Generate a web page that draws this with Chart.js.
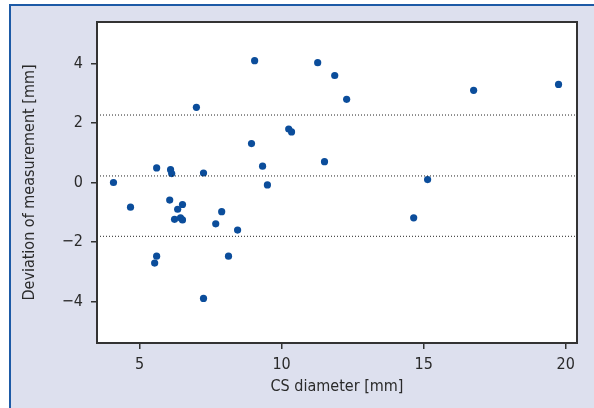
<!DOCTYPE html>
<html>
<head>
<meta charset="utf-8">
<script src="https://cdn.jsdelivr.net/npm/chart.js@4"></script>
<style>
    html, body { margin: 0; padding: 0; background: #fff; }
    #wrap { width: 594px; height: 408px; }
</style>
</head>
<body>
<div id="wrap"><canvas id="chart" width="594" height="408"></canvas></div>
<script>
// CS diameter [mm] vs deviation of measurement [mm]
const csDiameter = [
    4.08, 4.68, 5.6, 5.53, 5.6, 6.09, 6.13, 6.06, 6.23, 6.34, 6.44, 6.51,
    6.51, 7.0, 7.25, 7.25, 7.68, 7.89, 8.13, 8.45, 8.94, 9.05, 9.33, 9.5,
    10.25, 10.35, 11.27, 11.51, 11.87, 12.29, 14.65, 15.14, 16.76, 19.75
];
const deviation = [
    0.0, -0.83, 0.49, -2.71, -2.48, 0.43, 0.3, -0.59, -1.24, -0.9, -1.19, -0.74,
    -1.26, 2.53, 0.32, -3.9, -1.39, -0.98, -2.48, -1.6, 1.31, 4.1, 0.55, -0.08,
    1.8, 1.7, 4.03, 0.7, 3.6, 2.8, -1.19, 0.1, 3.1, 3.3
];

// mean difference and limits of agreement (dotted lines)
const refLines = [2.27, 0.22, -1.81];

const xTicks = [5, 10, 15, 20];
const yTicks = [-4, -2, 0, 2, 4];
const xRange = [3.5, 20.4];
const yRange = [-5.4, 5.4];

const FONT = '"Liberation Sans Narrow", "DejaVu Sans Condensed", "Arial Narrow", Arial, sans-serif';
const TEXT = '#2a2a2a';
const AXIS = '#333333';

const points = csDiameter.map((x, i) => ({ x: x, y: deviation[i] }));

const lineSets = refLines.map(v => ({
    type: 'line',
    data: [{ x: xRange[0], y: v }, { x: xRange[1], y: v }],
    borderColor: '#222',
    borderWidth: 1,
    borderDash: [1, 2],
    pointRadius: 0,
    fill: false
}));

// page panel + plot box
const panelPlugin = {
    id: 'panel',
    beforeDraw(chart) {
        const ctx = chart.ctx;
        const a = chart.chartArea;
        ctx.save();
        ctx.fillStyle = '#ffffff';
        ctx.fillRect(0, 0, chart.width, chart.height);
        ctx.fillStyle = '#dde0ee';
        ctx.fillRect(9, 4, chart.width - 9, chart.height - 4);
        ctx.strokeStyle = '#1d5aa6';
        ctx.lineWidth = 2;
        ctx.beginPath();
        ctx.moveTo(10, chart.height);
        ctx.lineTo(10, 5);
        ctx.lineTo(chart.width, 5);
        ctx.stroke();
        ctx.fillStyle = '#ffffff';
        ctx.fillRect(a.left, a.top, a.right - a.left, a.bottom - a.top);
        ctx.restore();
    },
    afterDraw(chart) {
        const ctx = chart.ctx;
        const a = chart.chartArea;
        ctx.save();
        ctx.strokeStyle = AXIS;
        ctx.lineWidth = 2;
        ctx.strokeRect(a.left, a.top, a.right - a.left, a.bottom - a.top);
        ctx.restore();
    }
};

new Chart(document.getElementById('chart').getContext('2d'), {
    type: 'scatter',
    data: {
        datasets: [
            ...lineSets,
            {
                type: 'scatter',
                data: points,
                backgroundColor: '#0b4d9b',
                borderColor: '#0b4d9b',
                pointRadius: 3.6,
                pointBorderWidth: 0
            }
        ]
    },
    plugins: [panelPlugin],
    options: {
        responsive: false,
        animation: false,
        layout: { padding: { left: 20, top: 22, right: 17, bottom: 8 } },
        plugins: {
            legend: { display: false },
            tooltip: { enabled: false }
        },
        scales: {
            x: {
                type: 'linear',
                min: xRange[0],
                max: xRange[1],
                afterFit: s => { s.height = 57; },
                afterBuildTicks: s => { s.ticks = xTicks.map(v => ({ value: v })); },
                grid: { drawOnChartArea: false, drawTicks: true, tickLength: 6, color: AXIS, lineWidth: 1.5 },
                border: { display: false },
                ticks: { color: TEXT, font: { family: FONT, size: 16 }, padding: 6, maxRotation: 0 },
                title: { display: true, text: 'CS diameter [mm]', color: TEXT, font: { family: FONT, size: 16 }, padding: { top: 2, bottom: 4 } }
            },
            y: {
                type: 'linear',
                min: yRange[0],
                max: yRange[1],
                afterFit: s => { s.width = 77; },
                afterBuildTicks: s => { s.ticks = yTicks.map(v => ({ value: v })); },
                grid: { drawOnChartArea: false, drawTicks: true, tickLength: 6, color: AXIS, lineWidth: 1.5 },
                border: { display: false },
                ticks: {
                    color: TEXT,
                    font: { family: FONT, size: 16 },
                    padding: 8,
                    callback: v => String(v).replace('-', '\u2212')
                },
                title: { display: true, text: 'Deviation of measurement [mm]', color: TEXT, font: { family: FONT, size: 16 }, padding: { top: 0, bottom: 4 } }
            }
        }
    }
});
</script>
</body>
</html>
